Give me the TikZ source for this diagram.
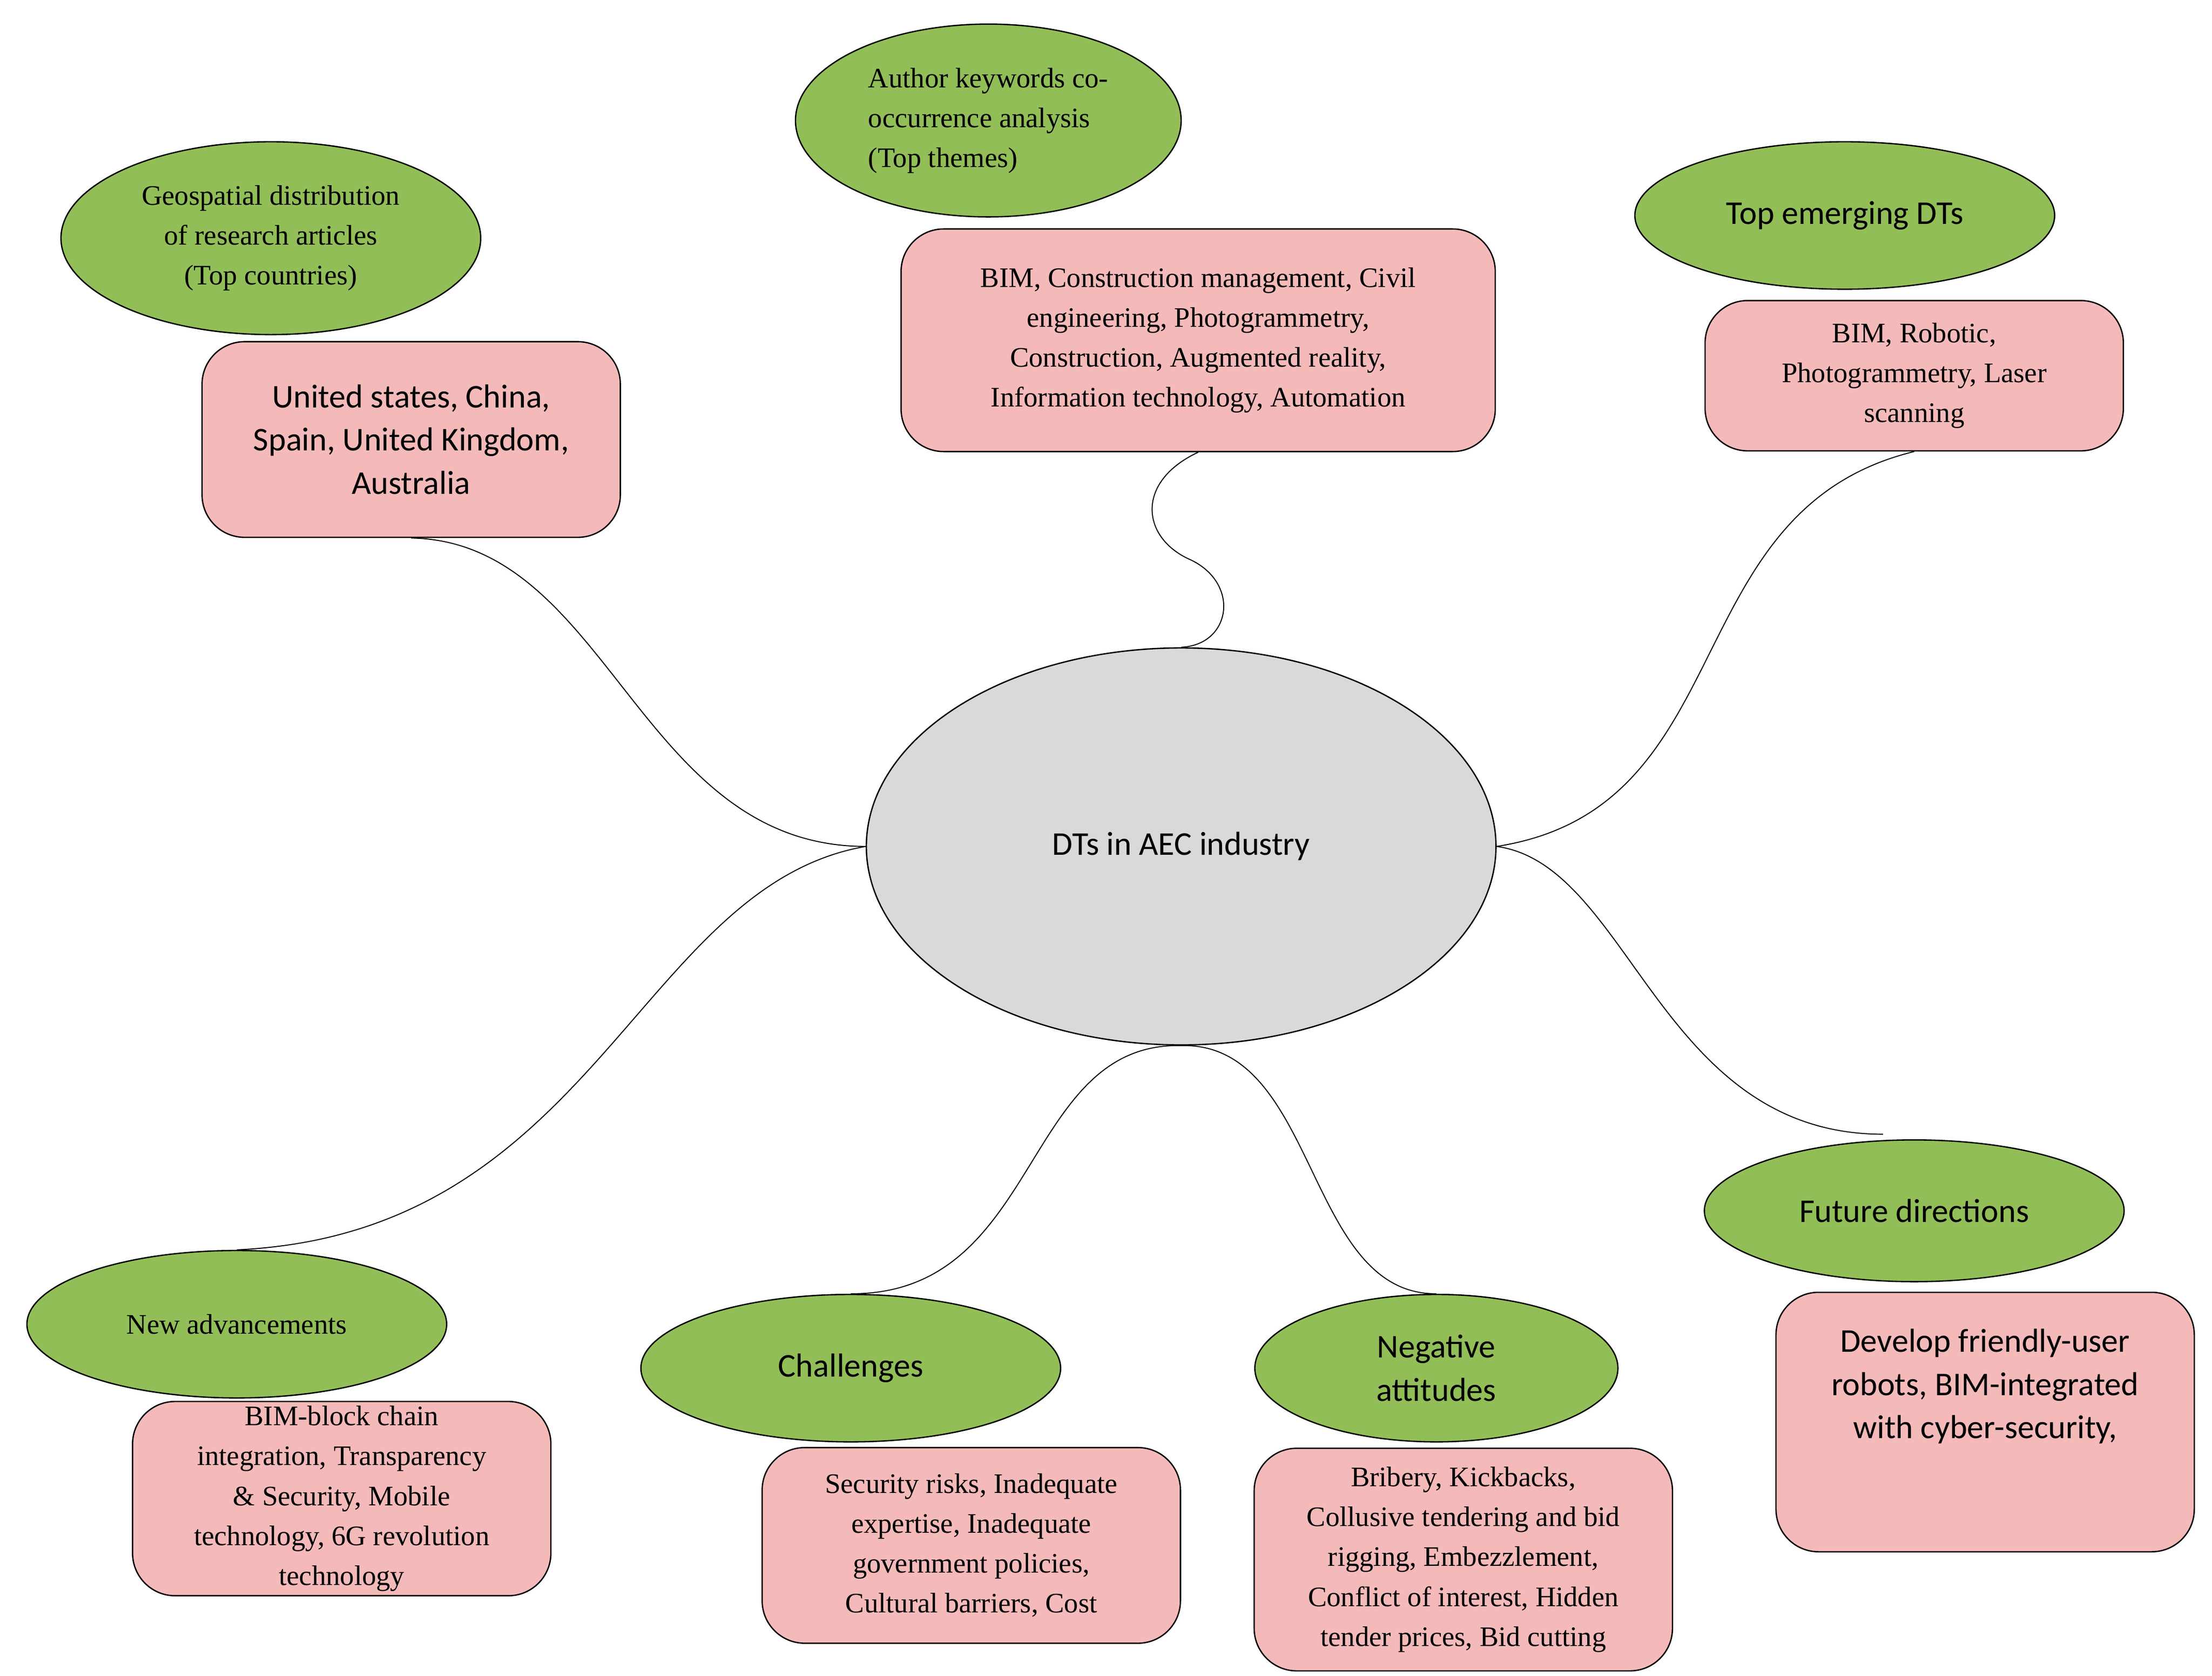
\documentclass[tikz,border=0pt]{standalone}
\usepackage{fontspec}
\setmainfont{Liberation Serif}
\newfontfamily\carl{Carlito}
\usetikzlibrary{shapes.geometric}
\definecolor{grn}{RGB}{146,190,88}
\definecolor{pnk}{RGB}{244,186,186}
\definecolor{gry}{RGB}{217,217,217}
\begin{document}
\begin{tikzpicture}[x=0.03cm,y=-0.03cm,
 el/.style={ellipse,draw=black,line width=0.8pt,fill=grn,align=center,inner sep=0pt},
 bx/.style={rectangle,rounded corners=0.9cm,draw=black,line width=0.8pt,fill=pnk,align=center,inner sep=0pt},
 ser/.style={font=\fontsize{17}{24}\selectfont},
 san/.style={font=\carl\fontsize{20}{26}\selectfont},
 ln/.style={line width=0.6pt}]
\useasboundingbox (0,0) rectangle (1560,1182);
\node[el,fill=gry,minimum width=13.32cm,minimum height=8.4cm,san] (c) at (833,597) {DTs in AEC industry};
\node[el,minimum width=8.88cm,minimum height=4.08cm,ser] (ge) at (191,168) {Geospatial distribution\\of research articles\\(Top countries)};
\node[bx,minimum width=8.85cm,minimum height=4.14cm,san] (gb) at (290,310) {United states, China,\\Spain, United Kingdom,\\Australia};
\node[el,minimum width=8.16cm,minimum height=4.08cm,ser,align=left] (ae) at (697,85) {Author keywords co-\\occurrence analysis\\(Top themes)};
\node[bx,minimum width=12.57cm,minimum height=4.71cm,ser] (ab) at (845,240) {BIM, Construction management, Civil\\engineering, Photogrammetry,\\Construction, Augmented reality,\\Information technology, Automation};
\node[el,minimum width=8.88cm,minimum height=3.12cm,san] (te) at (1301,152) {Top emerging DTs};
\node[bx,minimum width=8.85cm,minimum height=3.18cm,ser] (tb) at (1350,265) {BIM, Robotic,\\Photogrammetry, Laser\\scanning};
\node[el,minimum width=8.88cm,minimum height=3.0cm,san] (fe) at (1350,854) {Future directions};
\node[bx,minimum width=8.85cm,minimum height=5.49cm,san] (fb) at (1400,1003) {Develop friendly-user\\robots, BIM-integrated\\with cyber-security,\\[0.7cm]};
\node[el,minimum width=7.68cm,minimum height=3.12cm,san] (ne) at (1013,965) {Negative\\attitudes};
\node[bx,minimum width=8.85cm,minimum height=4.71cm,ser] (nb) at (1032,1100) {Bribery, Kickbacks,\\Collusive tendering and bid\\rigging, Embezzlement,\\Conflict of interest, Hidden\\tender prices, Bid cutting};
\node[el,minimum width=8.88cm,minimum height=3.12cm,san] (ce) at (600,965) {Challenges};
\node[bx,minimum width=8.85cm,minimum height=4.14cm,ser] (cb) at (685,1090) {Security risks, Inadequate\\expertise, Inadequate\\government policies,\\Cultural barriers, Cost};
\node[el,minimum width=8.88cm,minimum height=3.12cm,ser] (na) at (167,934) {New advancements};
\node[bx,minimum width=8.85cm,minimum height=4.11cm,ser] (nab) at (241,1057) {BIM-block chain\\integration, Transparency\\\& Security, Mobile\\technology, 6G revolution\\technology};
\coordinate (fc) at (1328,800);
\draw[ln] (gb.south) .. controls (430,382) and (450,597) .. (c.west);
\draw[ln] (ab.south) .. controls (800,340) and (805,380) .. (840,395) .. controls (875,412) and (868,455) .. (c.north);
\draw[ln] (tb.south) .. controls (1180,360) and (1230,570) .. (c.east);
\draw[ln] (c.east) .. controls (1150,610) and (1170,800) .. (fc);
\draw[ln] (c.south) .. controls (720,735) and (735,913) .. (ce.north);
\draw[ln] (c.south) .. controls (930,735) and (920,913) .. (ne.north);
\draw[ln] (c.west) .. controls (450,625) and (420,870) .. (na.north);
\end{tikzpicture}
\end{document}
